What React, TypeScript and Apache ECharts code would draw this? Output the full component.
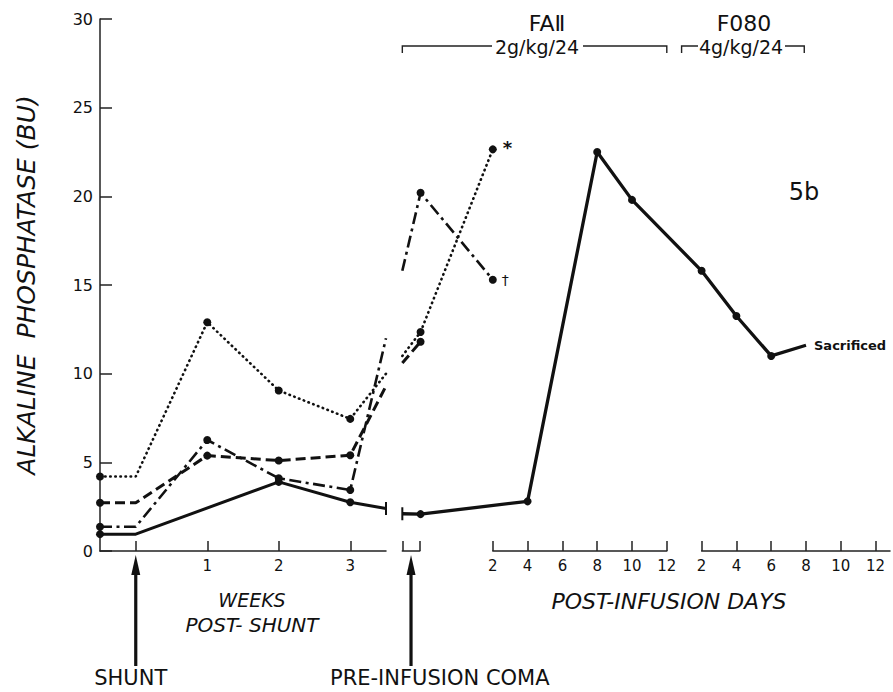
import { useEffect, useRef } from "react";
import * as echarts from "echarts";

// ---- Post-shunt phase (weeks). -0.5 is the baseline reading on the axis,
// 0 is the shunt, 3.5 is where the week scale is broken before the coma.
const weekPoints = [-0.5, 0, 1, 2, 3, 3.5];
const weekTicks = [0, 1, 2, 3];
const weekLabels = [1, 2, 3];
const dottedWeeks = [4.2, 4.2, 12.9, 9.05, 7.45, 10.0];
const dashedWeeks = [2.72, 2.72, 5.38, 5.1, 5.4, 9.3];
const dashDotWeeks = [1.37, 1.37, 6.26, 4.1, 3.44, 12.0];
const solidWeeks: (number | null)[] = [0.95, 0.95, null, 3.9, 2.75, 2.4];
const weeksWithoutDot = [0, 3.5];

// ---- Infusion phase (days). Coma readings sit just before FAII day 0;
// F080 days continue straight on from FAII day 12.
const COMA_START = -3.2;
const COMA_END = -2.2;
const COMA_DAY = -2.15;
const F080_OFFSET = 12;
const faiiTicks = [2, 4, 6, 8, 10, 12];
const f080Ticks = [2, 4, 6, 8, 10, 12];

const dottedInfusion = [[COMA_START, 11.0], [COMA_DAY, 12.35], [2, 22.65]];
const dashedInfusion = [[COMA_START, 10.6], [COMA_DAY, 11.8]];
const dashDotInfusion = [[COMA_START, 15.8], [COMA_DAY, 20.2], [2, 15.3]];
const solidFaii = [[COMA_START, 2.1], [COMA_DAY, 2.08], [4, 2.8], [8, 22.5], [10, 19.8]];
const solidF080 = [[2, 15.8], [4, 13.25], [6, 11.0]];
const sacrificedAt = [8, 11.6];

const yMax = 30;
const yStep = 5;

// ---- Layout (pixels)
const W = 893;
const H = 692;
const PLOT_LEFT = 100;
const PLOT_RIGHT = 890;
const PLOT_TOP = 19;
const PLOT_BOTTOM = 551;
const WEEK_PX = 71.5;
const DAY_PX = 17.4;
const DAY0_X = 458;

const weekX = (w: number) => PLOT_LEFT + WEEK_PX * (w + 0.5);
const dayX = (d: number) => DAY0_X + DAY_PX * d;

const INK = "#111";
const FONT = "DejaVu Sans, Liberation Sans, sans-serif";

type Pt = { value: number[]; symbol?: string; symbolSize?: number | number[]; label?: any };

function weekSeriesData(values: (number | null)[], breakTick = false): Pt[] {
  return weekPoints.map((w, i) => {
    const v = values[i];
    if (v === null) return { value: [w, NaN] };
    const item: Pt = { value: [w, v] };
    if (weeksWithoutDot.includes(w)) item.symbol = "none";
    if (breakTick && w === 3.5) {
      item.symbol = "rect";
      item.symbolSize = [2, 13];
    }
    return item;
  });
}

function infusionData(points: number[][], breakTick = false): Pt[] {
  return points.map(([d, v]) => {
    const item: Pt = { value: [d, v] };
    if (d === COMA_START) {
      if (breakTick) {
        item.symbol = "rect";
        item.symbolSize = [2, 13];
      } else item.symbol = "none";
    }
    return item;
  });
}

function withEndLabel(data: Pt[], text: string, extra: any = {}): Pt[] {
  const last = data[data.length - 1];
  last.label = {
    show: true,
    formatter: text,
    position: "right",
    distance: 6,
    color: INK,
    fontFamily: FONT,
    ...extra,
  };
  return data;
}

const dottedStyle = { color: INK, width: 2.6, type: [0.5, 4.6], cap: "round" };
const dashedStyle = { color: INK, width: 3, type: [10, 5] };
const dashDotStyle = { color: INK, width: 2.6, type: [12, 4.5, 3, 4.5] };
const solidStyle = { color: INK, width: 3 };

function lineSeries(data: Pt[], lineStyle: any, xAxisIndex: number) {
  return {
    type: "line",
    xAxisIndex,
    yAxisIndex: 0,
    data,
    symbol: "circle",
    symbolSize: 8,
    showAllSymbol: true,
    connectNulls: true,
    clip: false,
    lineStyle,
    itemStyle: { color: INK },
    emphasis: { disabled: true },
    z: 3,
  };
}

function displayAxis(gridIndex: number, min: number, max: number, ticks: number[], labels: number[]) {
  return {
    type: "value",
    gridIndex,
    min,
    max,
    position: "bottom",
    axisLine: { show: true, onZero: false, lineStyle: { color: "#222", width: 1.5 } },
    axisTick: {
      show: true,
      inside: true,
      length: 10,
      customValues: ticks,
      lineStyle: { color: "#222", width: 1.5 },
    },
    axisLabel: {
      show: labels.length > 0,
      customValues: labels,
      fontSize: 15,
      fontFamily: FONT,
      color: INK,
      margin: 7,
    },
    splitLine: { show: false },
  };
}

function bracket(x1: number, x2: number, gapL: number, gapR: number, y: number) {
  const style = { stroke: "#222", lineWidth: 1.4, fill: "none" };
  return [
    { type: "polyline", shape: { points: [[x1, y + 7], [x1, y], [gapL, y]] }, style },
    { type: "polyline", shape: { points: [[gapR, y], [x2, y], [x2, y + 7]] }, style },
  ];
}

function arrow(x: number, yTip: number, yEnd: number) {
  return [
    { type: "line", shape: { x1: x, y1: yTip + 14, x2: x, y2: yEnd }, style: { stroke: INK, lineWidth: 3.2 } },
    {
      type: "polygon",
      shape: { points: [[x, yTip], [x - 4.5, yTip + 20], [x + 4.5, yTip + 20]] },
      style: { fill: INK },
    },
  ];
}

function text(x: number, y: number, t: string, size: number, extra: any = {}) {
  return {
    type: "text",
    x,
    y,
    style: {
      text: t,
      fontSize: size,
      fontFamily: FONT,
      fill: INK,
      align: "center",
      verticalAlign: "middle",
      ...extra,
    },
  };
}

export default function App() {
  const ref = useRef<HTMLDivElement>(null);

  useEffect(() => {
    document.body.style.margin = "0";
    if (!ref.current) return;
    const chart = echarts.init(ref.current, undefined, { renderer: "svg" });

    const plotW = PLOT_RIGHT - PLOT_LEFT;
    const plotH = PLOT_BOTTOM - PLOT_TOP;
    const axisBand = (left: number, width: number) => ({
      left,
      width,
      top: PLOT_BOTTOM - 10,
      height: 10,
      outerBoundsMode: "none",
    });

    const solidInfusion = [
      ...solidFaii,
      ...solidF080.map(([d, v]) => [d + F080_OFFSET, v]),
      [sacrificedAt[0] + F080_OFFSET, sacrificedAt[1]],
    ];
    const solidInfData = infusionData(solidInfusion, true);
    solidInfData[solidInfData.length - 1].symbolSize = 0;
    withEndLabel(solidInfData, "Sacrificed", { fontSize: 13, fontWeight: "bold", distance: 8 });

    const faiiLeft = dayX(faiiTicks[0]);
    const f080Left = dayX(F080_OFFSET + f080Ticks[0]);

    chart.setOption({
      animation: false,
      backgroundColor: "#fff",
      grid: [
        { left: PLOT_LEFT, top: PLOT_TOP, width: plotW, height: plotH, outerBoundsMode: "none" },
        axisBand(PLOT_LEFT, weekX(3.5) - PLOT_LEFT),
        axisBand(dayX(COMA_START), dayX(COMA_END) - dayX(COMA_START)),
        axisBand(faiiLeft, dayX(12) - faiiLeft),
        axisBand(f080Left, PLOT_RIGHT - f080Left),
      ],
      xAxis: [
        { type: "value", gridIndex: 0, show: false, min: -0.5, max: -0.5 + plotW / WEEK_PX },
        {
          type: "value",
          gridIndex: 0,
          show: false,
          min: (PLOT_LEFT - DAY0_X) / DAY_PX,
          max: (PLOT_RIGHT - DAY0_X) / DAY_PX,
        },
        displayAxis(1, -0.5, 3.5, weekTicks, weekLabels),
        displayAxis(2, COMA_START, COMA_END, [COMA_START, COMA_END], []),
        displayAxis(3, 2, 12, faiiTicks, faiiTicks),
        displayAxis(4, 2, 2 + (PLOT_RIGHT - f080Left) / DAY_PX, f080Ticks, f080Ticks),
      ],
      yAxis: [
        {
          type: "value",
          gridIndex: 0,
          min: 0,
          max: yMax,
          interval: yStep,
          name: "ALKALINE  PHOSPHATASE (BU)",
          nameLocation: "middle",
          nameRotate: 90,
          nameGap: 61,
          nameTextStyle: { fontSize: 25, fontStyle: "italic", fontFamily: FONT, color: INK },
          axisLine: { show: true, onZero: false, lineStyle: { color: "#222", width: 1.5 } },
          axisTick: { show: true, inside: true, length: 12, lineStyle: { color: "#222", width: 1.5 } },
          axisLabel: { fontSize: 16, fontFamily: FONT, color: INK, margin: 7 },
          splitLine: { show: false },
        },
        { type: "value", gridIndex: 1, show: false },
        { type: "value", gridIndex: 2, show: false },
        { type: "value", gridIndex: 3, show: false },
        { type: "value", gridIndex: 4, show: false },
      ],
      series: [
        lineSeries(weekSeriesData(dottedWeeks), dottedStyle, 0),
        lineSeries(weekSeriesData(dashedWeeks), dashedStyle, 0),
        lineSeries(weekSeriesData(dashDotWeeks), dashDotStyle, 0),
        lineSeries(weekSeriesData(solidWeeks, true), solidStyle, 0),
        lineSeries(withEndLabel(infusionData(dottedInfusion), "*", { fontSize: 18, fontWeight: "bold", offset: [0, -2] }), dottedStyle, 1),
        lineSeries(infusionData(dashedInfusion), dashedStyle, 1),
        lineSeries(withEndLabel(infusionData(dashDotInfusion), "†", { fontSize: 14, distance: 5 }), dashDotStyle, 1),
        lineSeries(solidInfData, { ...solidStyle, width: 3.3 }, 1),
      ],
      graphic: [
        // Regimen headers
        text(547, 23, "FAⅡ", 22),
        text(537, 47, "2g/kg/24", 19),
        ...bracket(dayX(COMA_START), dayX(12), 492, 583, 46),
        text(744, 23, "F080", 22),
        text(741, 47, "4g/kg/24", 19),
        ...bracket(dayX(F080_OFFSET + 0.85), dayX(F080_OFFSET + 7.9), 698, 785, 46),
        text(804, 192, "5b", 24),
        // Event arrows
        ...arrow(weekX(0), PLOT_BOTTOM + 4, 666),
        text(weekX(0) - 5, 678, "SHUNT", 21),
        ...arrow(dayX((COMA_START + COMA_END) / 2), PLOT_BOTTOM + 4, 666),
        text(330, 678, "PRE-INFUSION COMA", 21, { align: "left" }),
        // Axis captions
        text(252, 600, "WEEKS", 19, { fontStyle: "italic" }),
        text(252, 625, "POST- SHUNT", 20, { fontStyle: "italic" }),
        text(669, 601, "POST-INFUSION DAYS", 22, { fontStyle: "italic" }),
      ],
    });

    return () => chart.dispose();
  }, []);

  return <div ref={ref} style={{ width: W, height: H }} />;
}
